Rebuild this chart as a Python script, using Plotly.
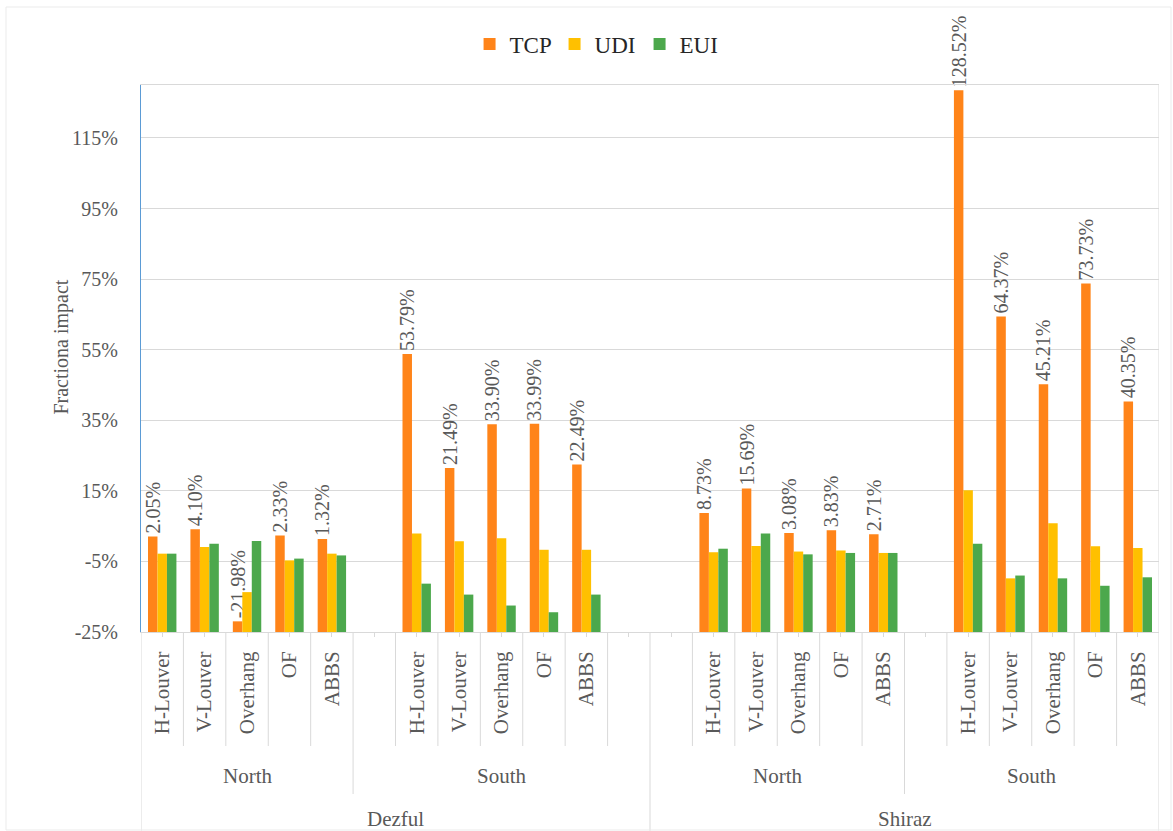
import plotly.graph_objects as go

# ---------------- data ----------------
cities = ["Dezful", "Shiraz"]
orientations = ["North", "South"]
devices = ["H-Louver", "V-Louver", "Overhang", "OF", "ABBS"]

# order: Dezful-North, Dezful-South, Shiraz-North, Shiraz-South (5 devices each)
tcp = [2.05, 4.10, -21.98, 2.33, 1.32,
       53.79, 21.49, 33.90, 33.99, 22.49,
       8.73, 15.69, 3.08, 3.83, 2.71,
       128.52, 64.37, 45.21, 73.73, 40.35]
udi = [-2.8, -0.9, -13.7, -4.7, -2.8,
       2.9, 0.7, 1.6, -1.7, -1.7,
       -2.4, -0.6, -2.2, -1.9, -2.6,
       15.2, -9.8, 5.8, -0.7, -1.2]
eui = [-2.8, 0.0, 0.8, -4.2, -3.3,
       -11.3, -14.4, -17.5, -19.4, -14.4,
       -1.4, 2.9, -3.0, -2.6, -2.6,
       0.0, -9.0, -9.8, -11.9, -9.5]

y_ticks = [-25, -5, 15, 35, 55, 75, 95, 115]

series_names = ["TCP", "UDI", "EUI"]
series_values = [tcp, udi, eui]
series_colors = ["#FF8419", "#FFC000", "#4CA84C"]

# ---------------- layout helpers ----------------
BASE = -25          # value axis minimum (bars grow from here)
YMAX = 130
lead_blank = [0, 1, 1, 1]   # empty category slots before each group
trail_blank = [0, 1, 0, 0]  # empty category slots after each group

groups = [(c, o) for c in cities for o in orientations]
x_pos, tickvals, ticktext, group_spans = [], [], [], []
slot = 0
for gi, (city, ori) in enumerate(groups):
    start = slot
    for _ in range(lead_blank[gi]):
        tickvals.append(slot); ticktext.append(""); slot += 1
    for d in devices:
        x_pos.append(slot); tickvals.append(slot); ticktext.append(d); slot += 1
    for _ in range(trail_blank[gi]):
        tickvals.append(slot); ticktext.append(""); slot += 1
    group_spans.append((start, slot, city, ori))
n_slots = slot

SERIF = "Liberation Serif"
GRAY = "#595959"
LINE = "#D9D9D9"

fig = go.Figure()
for name, vals, col in zip(series_names, series_values, series_colors):
    fig.add_trace(go.Bar(
        name=name,
        x=x_pos,
        y=[v - BASE for v in vals],
        base=BASE,
        marker=dict(color=col, line=dict(width=0)),
        text=[f"{v:.2f}%" for v in vals] if name == "TCP" else None,
        textposition="outside" if name == "TCP" else "none",
        textangle=-90,
        textfont=dict(family=SERIF, size=20, color=GRAY),
        constraintext="none",
        cliponaxis=False,
        hovertemplate=name + ": %{base}%<extra></extra>",
    ))

# ---------------- dividers below the axis ----------------
H_PLOT = 831 - 85 - 199
def py(pix):  # pixel row -> paper y
    return (632 - pix) / H_PLOT

y_dev, y_ori, y_bot = py(746), py(794), py(831)
shapes = []
group_edges = set()
for (s, e, c, o) in group_spans:
    group_edges.add(s); group_edges.add(e)
city_edges = {0, n_slots}
for ci, c in enumerate(cities):
    spans = [g for g in group_spans if g[2] == c]
    city_edges.add(spans[0][0]); city_edges.add(spans[-1][1])

dev_edges = set()
for xp in x_pos:
    dev_edges.add(xp); dev_edges.add(xp + 1)

for b in sorted(dev_edges | group_edges | city_edges):
    if b in city_edges:
        y1 = y_bot
    elif b in group_edges:
        y1 = y_ori
    else:
        y1 = y_dev
    shapes.append(dict(type="line", xref="x", yref="paper",
                       x0=b - 0.5, x1=b - 0.5, y0=0, y1=y1,
                       line=dict(color=LINE, width=1), layer="below"))
# right border of plot area
shapes.append(dict(type="line", xref="x", yref="paper",
                   x0=n_slots - 0.5, x1=n_slots - 0.5, y0=1, y1=0,
                   line=dict(color=LINE, width=1)))
# outer chart border
shapes.append(dict(type="rect", xref="paper", yref="paper",
                   x0=(6 - 141) / 1018, x1=(1171 - 141) / 1018,
                   y0=py(830), y1=py(7),
                   line=dict(color="#EBEBEB", width=1), layer="below"))

annotations = []
for (s, e, c, o) in group_spans:
    annotations.append(dict(x=(s + e) / 2 - 0.5, y=py(776), xref="x", yref="paper",
                            text=o, showarrow=False, yanchor="middle",
                            font=dict(family=SERIF, size=21, color=GRAY)))
for c in cities:
    spans = [g for g in group_spans if g[2] == c]
    annotations.append(dict(x=(spans[0][0] + spans[-1][1]) / 2 - 0.5, y=py(819),
                            xref="x", yref="paper", text=c, showarrow=False,
                            yanchor="middle",
                            font=dict(family=SERIF, size=21, color=GRAY)))
annotations.append(dict(x=(62 - 141) / 1018, y=0.52, xref="paper", yref="paper",
                        text="Fractiona impact", textangle=-90, showarrow=False,
                        xanchor="center", yanchor="middle",
                        font=dict(family=SERIF, size=20, color=GRAY)))

fig.update_layout(
    width=1173, height=831,
    margin=dict(l=141, r=14, t=85, b=199),
    paper_bgcolor="white", plot_bgcolor="white",
    barmode="group", bargap=0.33, bargroupgap=0,
    font=dict(family=SERIF, color=GRAY),
    showlegend=True,
    legend=dict(orientation="h", x=0.448, xanchor="center", y=py(44), yanchor="middle",
                font=dict(family=SERIF, size=23, color="#262626"),
                itemwidth=30, entrywidth=40, bgcolor="rgba(0,0,0,0)"),
    xaxis=dict(range=[-0.5, n_slots - 0.5], tickmode="array",
               tickvals=tickvals, ticktext=ticktext, tickangle=-90,
               showgrid=False, zeroline=False,
               showline=True, linecolor=LINE, linewidth=1, mirror=True,
               ticks="outside", ticklen=4, tickcolor=LINE,
               ticklabelstandoff=6,
               tickfont=dict(family=SERIF, size=21, color=GRAY)),
    yaxis=dict(range=[BASE, YMAX], tickmode="array", tickvals=y_ticks,
               ticktext=[f"{t}%" for t in y_ticks],
               showgrid=True, gridcolor=LINE, gridwidth=1, zeroline=False,
               showline=True, linecolor="#5B9BD5", linewidth=1,
               ticks="", ticklabelstandoff=18,
               tickfont=dict(family=SERIF, size=20, color=GRAY)),
    shapes=shapes,
    annotations=annotations,
)

fig.write_html("out.html")
